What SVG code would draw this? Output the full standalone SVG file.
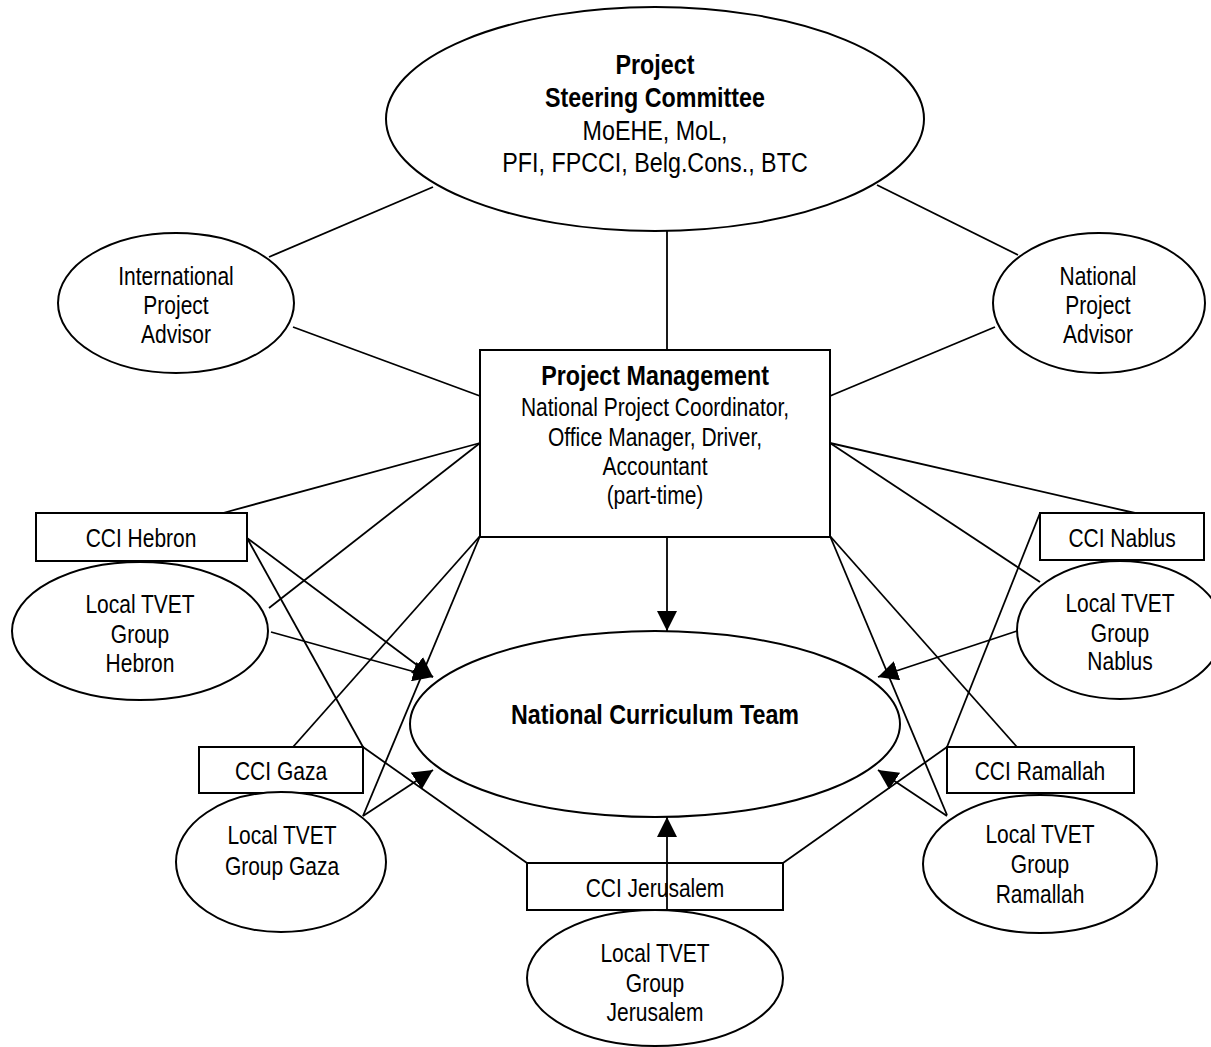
<svg xmlns="http://www.w3.org/2000/svg" width="1211" height="1047" viewBox="0 0 1211 1047">
  <defs>
    <style>
      .shape { fill: #ffffff; stroke: #000000; stroke-width: 2; }
      .link { fill: none; stroke: #000000; stroke-width: 1.8; }
      .arrow { fill: none; stroke: #000000; stroke-width: 1.8; marker-end: url(#head); }
      text { font-family: "Liberation Sans", Arial, sans-serif; fill: #000000; text-anchor: middle; }
      .t { font-size: 25.6px; }
      .tl { font-size: 28.4px; }
      .b { font-weight: bold; }
    </style>
    <marker id="head" markerUnits="userSpaceOnUse" viewBox="0 0 20 20" refX="20" refY="10" markerWidth="20" markerHeight="20" orient="auto">
      <path d="M0,0 L20,10 L0,20 z" fill="#000000"/>
    </marker>
  </defs>

  <rect x="0" y="0" width="1211" height="1047" fill="#ffffff"/>

  <!-- governance level -->
  <g id="steering-committee">
    <ellipse class="shape" cx="655" cy="119" rx="269" ry="112"/>
    <g transform="translate(655 0) scale(0.82 1)">
      <text class="tl b" x="0" y="74">Project</text>
      <text class="tl b" x="0" y="107">Steering Committee</text>
      <text class="tl" x="0" y="140">MoEHE, MoL,</text>
      <text class="tl" x="0" y="172">PFI, FPCCI, Belg.Cons., BTC</text>
    </g>
  </g>

  <g id="international-advisor">
    <ellipse class="shape" cx="176" cy="303" rx="118" ry="70"/>
    <g transform="translate(176 0) scale(0.82 1)">
      <text class="t" x="0" y="285">International</text>
      <text class="t" x="0" y="314">Project</text>
      <text class="t" x="0" y="343">Advisor</text>
    </g>
  </g>

  <g id="national-advisor">
    <ellipse class="shape" cx="1099" cy="303" rx="106" ry="70"/>
    <g transform="translate(1098 0) scale(0.82 1)">
      <text class="t" x="0" y="285">National</text>
      <text class="t" x="0" y="314">Project</text>
      <text class="t" x="0" y="343">Advisor</text>
    </g>
  </g>

  <g id="project-management">
    <rect class="shape" x="480" y="350" width="350" height="187"/>
    <g transform="translate(655 0) scale(0.82 1)">
      <text class="tl b" x="0" y="385">Project Management</text>
      <text class="t" x="0" y="416">National Project Coordinator,</text>
      <text class="t" x="0" y="446">Office Manager, Driver,</text>
      <text class="t" x="0" y="475">Accountant</text>
      <text class="t" x="0" y="504">(part-time)</text>
    </g>
  </g>

  <g id="curriculum-team">
    <ellipse class="shape" cx="655" cy="724" rx="245" ry="93"/>
    <g transform="translate(655 0) scale(0.82 1)">
      <text class="tl b" x="0" y="724">National Curriculum Team</text>
    </g>
  </g>

  <!-- regional chambers and local groups -->
  <g id="cci-hebron">
    <rect class="shape" x="36" y="513" width="211" height="48"/>
    <g transform="translate(141 0) scale(0.82 1)">
      <text class="t" x="0" y="547">CCI Hebron</text>
    </g>
  </g>

  <g id="tvet-hebron">
    <ellipse class="shape" cx="140" cy="631" rx="128" ry="69"/>
    <g transform="translate(140 0) scale(0.82 1)">
      <text class="t" x="0" y="613">Local TVET</text>
      <text class="t" x="0" y="643">Group</text>
      <text class="t" x="0" y="672">Hebron</text>
    </g>
  </g>

  <g id="cci-gaza">
    <rect class="shape" x="199" y="747" width="164" height="46"/>
    <g transform="translate(281 0) scale(0.82 1)">
      <text class="t" x="0" y="780">CCI Gaza</text>
    </g>
  </g>

  <g id="tvet-gaza">
    <ellipse class="shape" cx="281" cy="862" rx="105" ry="70"/>
    <g transform="translate(282 0) scale(0.82 1)">
      <text class="t" x="0" y="844">Local TVET</text>
      <text class="t" x="0" y="875">Group Gaza</text>
    </g>
  </g>

  <g id="cci-jerusalem">
    <rect class="shape" x="527" y="863" width="256" height="47"/>
    <g transform="translate(655 0) scale(0.82 1)">
      <text class="t" x="0" y="897">CCI Jerusalem</text>
    </g>
  </g>

  <g id="tvet-jerusalem">
    <ellipse class="shape" cx="655" cy="978" rx="128" ry="68"/>
    <g transform="translate(655 0) scale(0.82 1)">
      <text class="t" x="0" y="962">Local TVET</text>
      <text class="t" x="0" y="992">Group</text>
      <text class="t" x="0" y="1021">Jerusalem</text>
    </g>
  </g>

  <g id="cci-ramallah">
    <rect class="shape" x="947" y="747" width="187" height="46"/>
    <g transform="translate(1040 0) scale(0.82 1)">
      <text class="t" x="0" y="780">CCI Ramallah</text>
    </g>
  </g>

  <g id="tvet-ramallah">
    <ellipse class="shape" cx="1040" cy="864" rx="117" ry="69"/>
    <g transform="translate(1040 0) scale(0.82 1)">
      <text class="t" x="0" y="843">Local TVET</text>
      <text class="t" x="0" y="873">Group</text>
      <text class="t" x="0" y="903">Ramallah</text>
    </g>
  </g>

  <g id="cci-nablus">
    <rect class="shape" x="1040" y="513" width="164" height="47"/>
    <g transform="translate(1122 0) scale(0.82 1)">
      <text class="t" x="0" y="547">CCI Nablus</text>
    </g>
  </g>

  <g id="tvet-nablus">
    <ellipse class="shape" cx="1120" cy="630" rx="103" ry="69"/>
    <g transform="translate(1120 0) scale(0.82 1)">
      <text class="t" x="0" y="612">Local TVET</text>
      <text class="t" x="0" y="642">Group</text>
      <text class="t" x="0" y="670">Nablus</text>
    </g>
  </g>

  <!-- connectors -->
  <g id="connectors">
    <line class="link" x1="433" y1="187" x2="269" y2="257"/>
    <line class="link" x1="877" y1="185" x2="1018" y2="255"/>
    <line class="link" x1="667" y1="231" x2="667" y2="350"/>
    <line class="link" x1="293" y1="327" x2="480" y2="396"/>
    <line class="link" x1="995" y1="327" x2="830" y2="396"/>

    <line class="link" x1="480" y1="443" x2="223" y2="513"/>
    <line class="link" x1="480" y1="443" x2="269" y2="608"/>
    <line class="link" x1="480" y1="536" x2="293" y2="747"/>
    <line class="link" x1="480" y1="536" x2="363" y2="816"/>
    <line class="link" x1="830" y1="443" x2="1135" y2="513"/>
    <line class="link" x1="830" y1="443" x2="1040" y2="582"/>
    <line class="link" x1="830" y1="536" x2="1017" y2="747"/>
    <line class="link" x1="830" y1="536" x2="947" y2="815"/>

    <line class="link" x1="247" y1="538" x2="363" y2="747"/>
    <line class="link" x1="363" y1="747" x2="527" y2="863"/>
    <line class="link" x1="783" y1="863" x2="947" y2="747"/>
    <line class="link" x1="947" y1="747" x2="1040" y2="513"/>

    <line class="arrow" x1="667" y1="537" x2="667" y2="631"/>
    <line class="arrow" x1="247" y1="538" x2="433" y2="677"/>
    <line class="arrow" x1="271" y1="632" x2="433" y2="677"/>
    <line class="arrow" x1="363" y1="816" x2="433" y2="770"/>
    <line class="arrow" x1="1017" y1="631" x2="878" y2="677"/>
    <line class="arrow" x1="947" y1="816" x2="878" y2="770"/>
    <line class="arrow" x1="667" y1="910" x2="667" y2="817"/>
  </g>
</svg>
